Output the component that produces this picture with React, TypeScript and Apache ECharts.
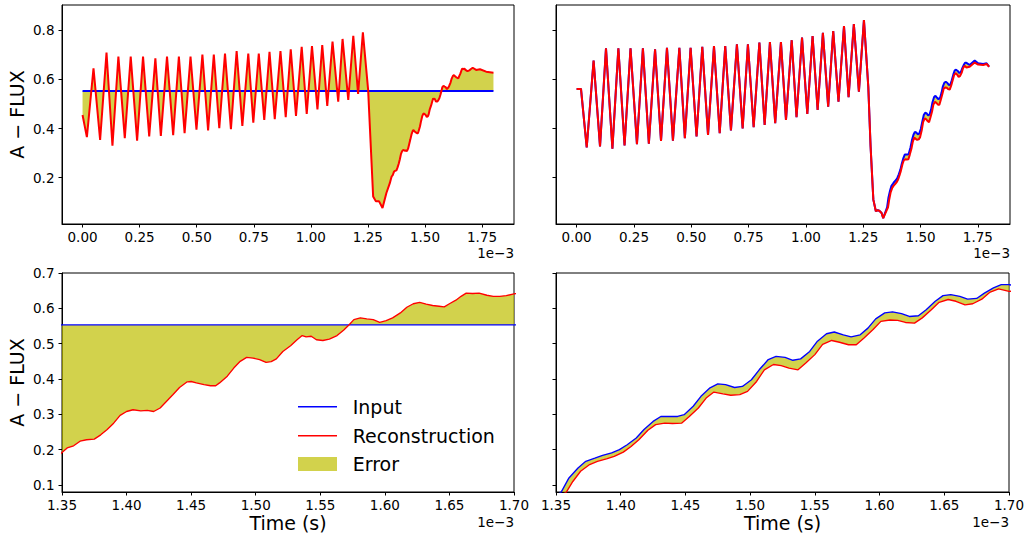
import React, { useEffect, useRef } from "react";
import * as echarts from "echarts";

const FONT = "DejaVu Sans";
const FILL = "rgba(191,191,0,0.7)";
const BLUE = "#0000ff";
const RED = "#ff0000";

// Tick values (x in units of 1e-3 s)
const topXTicks = [0, 0.25, 0.5, 0.75, 1.0, 1.25, 1.5, 1.75];
const bottomXTicks = [1.35, 1.4, 1.45, 1.5, 1.55, 1.6, 1.65, 1.7];
const topYTicks = [0.2, 0.4, 0.6, 0.8];
const bottomYTicks = [0.1, 0.2, 0.3, 0.4, 0.5, 0.6, 0.7];

// Left column: constant input and its reconstruction
const inputLeft = [[0, 0.553], [1.8, 0.553]];

const reconLeftEarly = [
  [0, 0.455], [0.019, 0.365], [0.048, 0.645], [0.077, 0.354], [0.105, 0.709], [0.131, 0.33],
  [0.157, 0.692], [0.185, 0.361], [0.211, 0.692], [0.239, 0.351], [0.265, 0.692], [0.292, 0.368],
  [0.319, 0.685], [0.343, 0.37], [0.37, 0.692], [0.397, 0.373], [0.422, 0.692], [0.447, 0.381],
  [0.473, 0.692], [0.499, 0.395], [0.525, 0.701], [0.55, 0.392], [0.575, 0.701], [0.599, 0.401],
  [0.624, 0.705], [0.65, 0.397], [0.675, 0.715], [0.7, 0.411], [0.726, 0.705], [0.748, 0.424],
  [0.772, 0.705], [0.796, 0.435], [0.819, 0.712], [0.842, 0.438], [0.867, 0.715], [0.89, 0.446],
  [0.912, 0.722], [0.935, 0.451], [0.96, 0.732], [0.982, 0.459], [1.005, 0.735], [1.029, 0.478],
  [1.05, 0.739], [1.072, 0.492], [1.095, 0.753], [1.12, 0.509], [1.139, 0.764], [1.164, 0.516],
  [1.186, 0.777], [1.207, 0.541], [1.228, 0.791], [1.251, 0.557], [1.273, 0.124], [1.285, 0.104],
  [1.299, 0.104], [1.314, 0.077], [1.331, 0.138], [1.346, 0.178],
];

const reconLeftZoom = [
  [1.35, 0.192], [1.354, 0.205], [1.359, 0.211], [1.364, 0.224], [1.369, 0.228], [1.375, 0.23],
  [1.38, 0.242], [1.385, 0.257], [1.39, 0.275], [1.395, 0.297], [1.4, 0.308], [1.405, 0.313],
  [1.411, 0.31], [1.416, 0.311], [1.421, 0.308], [1.426, 0.318], [1.431, 0.337], [1.436, 0.356],
  [1.441, 0.376], [1.447, 0.392], [1.45, 0.393], [1.454, 0.389], [1.46, 0.384], [1.465, 0.381],
  [1.469, 0.381], [1.472, 0.389], [1.478, 0.408], [1.483, 0.431], [1.488, 0.45], [1.493, 0.461],
  [1.498, 0.459], [1.503, 0.455], [1.508, 0.447], [1.512, 0.449], [1.516, 0.457], [1.521, 0.478],
  [1.527, 0.494], [1.532, 0.511], [1.536, 0.523], [1.539, 0.519], [1.543, 0.521], [1.547, 0.511],
  [1.552, 0.509], [1.557, 0.513], [1.563, 0.523], [1.568, 0.538], [1.572, 0.552], [1.576, 0.568],
  [1.581, 0.573], [1.586, 0.57], [1.591, 0.568], [1.596, 0.56], [1.601, 0.565], [1.606, 0.573],
  [1.612, 0.587], [1.617, 0.603], [1.622, 0.613], [1.627, 0.617], [1.632, 0.612], [1.637, 0.608],
  [1.642, 0.606], [1.646, 0.604], [1.65, 0.613], [1.655, 0.623], [1.659, 0.634], [1.663, 0.643],
  [1.668, 0.642], [1.673, 0.643], [1.679, 0.637], [1.684, 0.634], [1.689, 0.634], [1.694, 0.636],
  [1.7, 0.641],
];

const reconLeftLate = [[1.709, 0.647], [1.724, 0.638], [1.741, 0.641], [1.768, 0.631], [1.8, 0.627]];

// Right column: real input and its reconstruction (identical before the drop)
const rightShared = [
  [0, 0.561], [0.019, 0.561], [0.044, 0.323], [0.074, 0.676], [0.102, 0.327], [0.128, 0.726],
  [0.156, 0.318], [0.182, 0.726], [0.209, 0.331], [0.235, 0.726], [0.263, 0.336], [0.289, 0.726],
  [0.315, 0.338], [0.342, 0.722], [0.368, 0.35], [0.394, 0.728], [0.42, 0.351], [0.448, 0.728],
  [0.472, 0.361], [0.497, 0.728], [0.523, 0.368], [0.548, 0.732], [0.573, 0.374], [0.599, 0.735],
  [0.624, 0.381], [0.648, 0.735], [0.673, 0.392], [0.699, 0.742], [0.724, 0.4], [0.747, 0.742],
  [0.772, 0.405], [0.797, 0.749], [0.82, 0.415], [0.843, 0.751], [0.866, 0.422], [0.891, 0.751],
  [0.913, 0.435], [0.938, 0.759], [0.959, 0.446], [0.983, 0.77], [1.006, 0.459], [1.029, 0.776],
  [1.051, 0.476], [1.074, 0.789], [1.097, 0.489], [1.119, 0.796], [1.142, 0.509], [1.166, 0.816],
  [1.186, 0.527], [1.209, 0.824], [1.231, 0.55], [1.253, 0.841], [1.272, 0.57], [1.282, 0.327],
  [1.294, 0.111], [1.305, 0.064], [1.313, 0.068], [1.32, 0.066], [1.33, 0.057], [1.337, 0.036],
];

const inputRightZoom = [
  [1.354, 0.08], [1.36, 0.12], [1.367, 0.148], [1.373, 0.167], [1.38, 0.176], [1.386, 0.184],
  [1.393, 0.191], [1.399, 0.2], [1.405, 0.214], [1.412, 0.233], [1.418, 0.257], [1.425, 0.28],
  [1.431, 0.294], [1.438, 0.294], [1.444, 0.294], [1.449, 0.299], [1.456, 0.323], [1.462, 0.351],
  [1.469, 0.375], [1.475, 0.386], [1.481, 0.384], [1.488, 0.376], [1.494, 0.379], [1.501, 0.398],
  [1.507, 0.426], [1.514, 0.455], [1.52, 0.464], [1.527, 0.461], [1.533, 0.453], [1.539, 0.457],
  [1.546, 0.478], [1.552, 0.507], [1.559, 0.528], [1.565, 0.533], [1.572, 0.525], [1.578, 0.519],
  [1.585, 0.525], [1.591, 0.544], [1.597, 0.57], [1.604, 0.587], [1.61, 0.59], [1.617, 0.585],
  [1.623, 0.577], [1.63, 0.579], [1.636, 0.596], [1.643, 0.62], [1.649, 0.636], [1.655, 0.639],
  [1.662, 0.634], [1.668, 0.626], [1.675, 0.628], [1.681, 0.643], [1.688, 0.658], [1.694, 0.667],
  [1.7, 0.667],
];
const inputRightLate = [[1.714, 0.658], [1.736, 0.676], [1.751, 0.665], [1.773, 0.662], [1.788, 0.665], [1.799, 0.651]];

const reconRightZoom = [
  [1.358, 0.08], [1.363, 0.11], [1.369, 0.139], [1.376, 0.158], [1.382, 0.167], [1.389, 0.174],
  [1.395, 0.181], [1.402, 0.193], [1.408, 0.209], [1.414, 0.228], [1.421, 0.255], [1.427, 0.271],
  [1.434, 0.275], [1.44, 0.274], [1.447, 0.275], [1.453, 0.294], [1.46, 0.318], [1.466, 0.346],
  [1.472, 0.363], [1.479, 0.358], [1.485, 0.354], [1.492, 0.356], [1.498, 0.365], [1.505, 0.393],
  [1.511, 0.426], [1.518, 0.441], [1.524, 0.438], [1.53, 0.431], [1.537, 0.426], [1.543, 0.445],
  [1.55, 0.469], [1.556, 0.498], [1.563, 0.509], [1.569, 0.504], [1.576, 0.497], [1.582, 0.497],
  [1.588, 0.516], [1.595, 0.54], [1.601, 0.563], [1.608, 0.567], [1.614, 0.566], [1.62, 0.56],
  [1.627, 0.558], [1.633, 0.573], [1.64, 0.596], [1.646, 0.617], [1.653, 0.625], [1.659, 0.62],
  [1.666, 0.61], [1.672, 0.613], [1.679, 0.626], [1.685, 0.645], [1.692, 0.655], [1.7, 0.648],
];
const reconRightLate = [[1.714, 0.651], [1.736, 0.668], [1.751, 0.66], [1.773, 0.658], [1.788, 0.662], [1.799, 0.651]];

const reconLeft = [...reconLeftEarly, ...reconLeftZoom, ...reconLeftLate];
const inputRight = [...rightShared, ...inputRightZoom, ...inputRightLate];
const reconRight = [...rightShared, ...reconRightZoom, ...reconRightLate];

const TOP_X = [-0.09, 1.89];
const BOT_X = [1.35, 1.7];
const TOP_Y = [0.012, 0.902];
const BOT_Y = [0.0802, 0.7];

function lineSeries(name: string, data: number[][], idx: number, color: string, width: number, z: number) {
  return {
    type: "line",
    name,
    data,
    xAxisIndex: idx,
    yAxisIndex: idx,
    showSymbol: false,
    symbol: "none",
    smooth: false,
    clip: true,
    silent: true,
    z,
    lineStyle: { color, width },
    itemStyle: { color },
  };
}

function fillSeries(a: number[][], b: number[][], idx: number, xr: number[]) {
  const anchor = b.find((p) => p[0] >= xr[0] && p[0] <= xr[1]) || b[0];
  return {
    type: "custom",
    xAxisIndex: idx,
    yAxisIndex: idx,
    clip: true,
    silent: true,
    z: 1,
    data: [anchor],
    renderItem: (params: any, api: any) => {
      const pts: number[][] = [];
      for (const p of a) pts.push(api.coord(p));
      for (let i = b.length - 1; i >= 0; i--) pts.push(api.coord(b[i]));
      const cs = params.coordSys;
      const clipped = echarts.graphic.clipPointsByRect(pts, {
        x: cs.x,
        y: cs.y,
        width: cs.width,
        height: cs.height,
      } as any);
      return { type: "polygon", shape: { points: clipped }, style: { fill: FILL, stroke: null } };
    },
  };
}

function xAxisCfg(idx: number, range: number[], ticks: number[]) {
  return {
    type: "value",
    gridIndex: idx,
    min: range[0],
    max: range[1],
    axisLine: { show: true, onZero: false, lineStyle: { color: "#000", width: 1 } },
    axisTick: { show: true, length: 3.5, customValues: ticks, lineStyle: { color: "#000", width: 1 } },
    axisLabel: {
      show: true,
      customValues: ticks,
      formatter: (v: number) => v.toFixed(2),
      color: "#000",
      fontSize: 13.5,
      fontFamily: FONT,
      margin: 6,
    },
    splitLine: { show: false },
  };
}

function yAxisCfg(idx: number, range: number[], ticks: number[], labels: boolean) {
  return {
    type: "value",
    gridIndex: idx,
    min: range[0],
    max: range[1],
    axisLine: { show: true, onZero: false, lineStyle: { color: "#000", width: 1 } },
    axisTick: { show: true, length: 3.5, customValues: ticks, lineStyle: { color: "#000", width: 1 } },
    axisLabel: {
      show: labels,
      customValues: ticks,
      formatter: (v: number) => v.toFixed(1),
      color: "#000",
      fontSize: 13.5,
      fontFamily: FONT,
      margin: 7.5,
    },
    splitLine: { show: false },
  };
}

function txt(text: string, x: number, y: number, size: number, align: string, rotation = 0) {
  return {
    type: "text",
    x,
    y,
    rotation,
    silent: true,
    style: {
      text,
      fill: "#000",
      fontSize: size,
      fontFamily: FONT,
      align,
      verticalAlign: "middle",
      textAlign: align,
      textVerticalAlign: "middle",
    },
  };
}

export default function App() {
  const ref = useRef<HTMLDivElement>(null);
  useEffect(() => {
    if (!ref.current) return;
    const chart = echarts.init(ref.current, null, { renderer: "svg" });
    const gridBase = { show: true, borderColor: "#000", borderWidth: 1, backgroundColor: "transparent" };
    chart.setOption({
      animation: false,
      grid: [
        { ...gridBase, left: 62, top: 5, width: 452, height: 219 },
        { ...gridBase, left: 556, top: 5, width: 454, height: 219 },
        { ...gridBase, left: 62, top: 273, width: 452, height: 219 },
        { ...gridBase, left: 556, top: 273, width: 453, height: 219 },
      ],
      xAxis: [
        xAxisCfg(0, TOP_X, topXTicks),
        xAxisCfg(1, TOP_X, topXTicks),
        xAxisCfg(2, BOT_X, bottomXTicks),
        xAxisCfg(3, BOT_X, bottomXTicks),
      ],
      yAxis: [
        yAxisCfg(0, TOP_Y, topYTicks, true),
        yAxisCfg(1, TOP_Y, topYTicks, false),
        yAxisCfg(2, BOT_Y, bottomYTicks, true),
        yAxisCfg(3, BOT_Y, bottomYTicks, false),
      ],
      series: [
        fillSeries(inputLeft, reconLeft, 0, TOP_X),
        lineSeries("Input", inputLeft, 0, BLUE, 2, 2),
        lineSeries("Reconstruction", reconLeft, 0, RED, 2, 3),

        fillSeries(inputRight, reconRight, 1, TOP_X),
        lineSeries("Input", inputRight, 1, BLUE, 2, 2),
        lineSeries("Reconstruction", reconRight, 1, RED, 2, 3),

        fillSeries(inputLeft, reconLeft, 2, BOT_X),
        lineSeries("Input", inputLeft, 2, BLUE, 1.35, 2),
        lineSeries("Reconstruction", reconLeft, 2, RED, 1.35, 3),

        fillSeries(inputRight, reconRight, 3, BOT_X),
        lineSeries("Input", inputRight, 3, BLUE, 1.35, 2),
        lineSeries("Reconstruction", reconRight, 3, RED, 1.35, 3),
      ],
      graphic: [
        txt("A − FLUX", 16.7, 114.5, 19, "center", Math.PI / 2),
        txt("A − FLUX", 16.7, 382.5, 19, "center", Math.PI / 2),
        txt("Time (s)", 288, 523, 19, "center"),
        txt("Time (s)", 782.5, 523, 19, "center"),
        txt("1e−3", 514, 253.3, 13.5, "right"),
        txt("1e−3", 1010, 253.3, 13.5, "right"),
        txt("1e−3", 514, 521.7, 13.5, "right"),
        txt("1e−3", 1009, 521.7, 13.5, "right"),
        {
          type: "line",
          silent: true,
          shape: { x1: 298, y1: 406.7, x2: 337, y2: 406.7 },
          style: { stroke: BLUE, lineWidth: 1.35 },
        },
        {
          type: "line",
          silent: true,
          shape: { x1: 298, y1: 435.7, x2: 337, y2: 435.7 },
          style: { stroke: RED, lineWidth: 1.35 },
        },
        {
          type: "rect",
          silent: true,
          shape: { x: 298, y: 457, width: 39, height: 14 },
          style: { fill: FILL },
        },
        txt("Input", 352.7, 406.7, 19, "left"),
        txt("Reconstruction", 352.7, 435.7, 19, "left"),
        txt("Error", 352.7, 464, 19, "left"),
      ],
    });
    return () => chart.dispose();
  }, []);
  return (
    <div
      ref={ref}
      style={{ position: "fixed", left: 0, top: 0, width: 1028, height: 535, background: "#fff" }}
    />
  );
}
